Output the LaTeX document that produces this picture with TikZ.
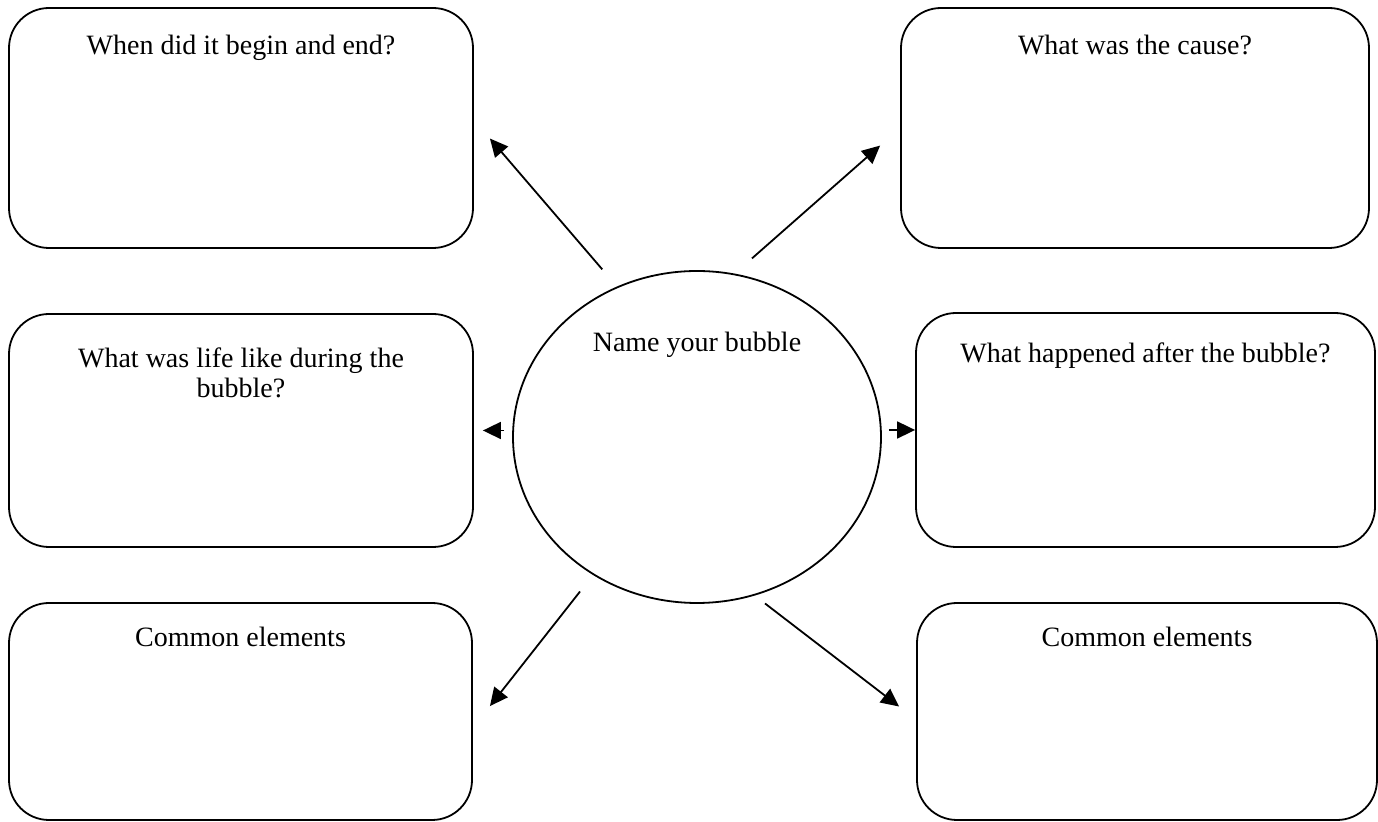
\documentclass[tikz,border=0pt]{standalone}
\usepackage{fontspec}
\setmainfont{Liberation Serif}
\usetikzlibrary{shapes.geometric,arrows.meta}

\tikzset{
  box/.style={draw, line width=0.9pt, rounded corners=20pt},
  title/.style={anchor=base, inner sep=0pt, font=\fontsize{14}{15}\selectfont, align=center},
  arr/.style={line width=0.9pt, -{Triangle[length=9pt,width=8.5pt]}}
}

\begin{document}
\begin{tikzpicture}[x=0.5pt, y=-0.5pt]
\useasboundingbox (0,0) rectangle (1378,822);

% the bubble in the middle
\node[draw, line width=0.9pt, ellipse, minimum width=184pt, minimum height=166pt,
      label={[title, yshift=-40.5pt]north:Name your bubble}] (bubble) at (697,437) {};

% question boxes
\node[box, minimum width=232pt, minimum height=120pt,
      label={[title, yshift=-23.5pt]north:When did it begin and end?}] (begin) at (241,128) {};
\node[box, minimum width=234pt, minimum height=120pt,
      label={[title, yshift=-23.5pt]north:What was the cause?}] (cause) at (1135,128) {};
\node[box, minimum width=232pt, minimum height=116.5pt,
      label={[title, yshift=-42pt]north:What was life like during the\\bubble?}] (life) at (241,430.5) {};
\node[box, minimum width=229.5pt, minimum height=117pt,
      label={[title, yshift=-25pt]north:What happened after the bubble?}] (after) at (1145.5,430) {};
\node[box, minimum width=231.5pt, minimum height=108.5pt,
      label={[title, yshift=-22pt]north:Common elements}] (elemsl) at (240.5,711.5) {};
\node[box, minimum width=230pt, minimum height=108.5pt,
      label={[title, yshift=-22pt]north:Common elements}] (elemsr) at (1147,711.5) {};

% arrows out of the bubble
\draw[arr, shorten <=11.3pt, shorten >=12.3pt] (bubble.118) -- (begin.2);
\draw[arr, shorten <=11.5pt, shorten >=13.3pt] (bubble.77) -- (cause.west);
\draw[arr, shorten <=4pt, shorten >=4.5pt] (bubble.west |- life.east) -- (life.east);
\draw[arr, shorten <=3.5pt] (bubble.east |- after.west) -- (after.west);
\draw[arr, shorten <=10.5pt, shorten >=13.8pt] (bubble.233) -- (elemsl.-4);
\draw[arr, shorten <=6.5pt, shorten >=10.7pt] (bubble.-70) -- (elemsr.182);
\end{tikzpicture}
\end{document}
